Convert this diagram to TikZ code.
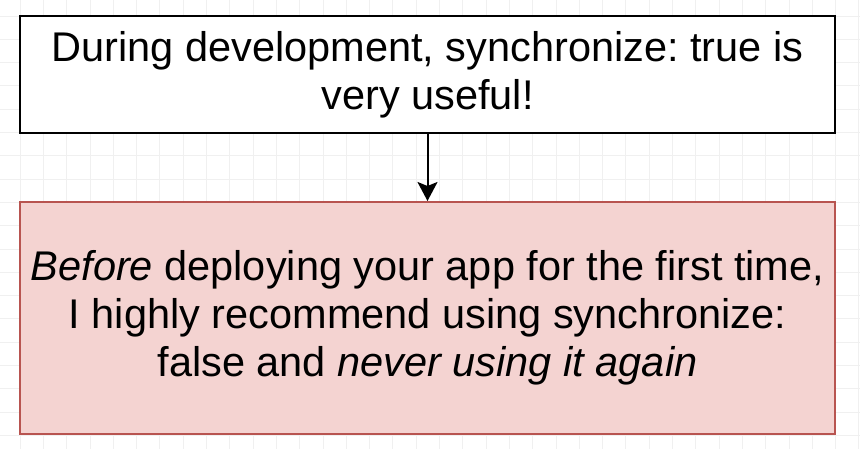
\documentclass[tikz,border=0pt]{standalone}
\usepackage{fontspec}
\setmainfont{Liberation Sans}
\usetikzlibrary{positioning,arrows.meta}
\definecolor{pinkfill}{HTML}{F4D3D1}
\definecolor{pinkline}{HTML}{B85450}
\frenchspacing
\tikzset{gridline/.style={draw=black!6, line width=0.8pt}}
\tikzset{note/.style={rectangle, minimum width=815pt, align=center, font=\fontsize{41.5}{48}\selectfont, inner sep=0pt}}
\tikzset{plain/.style={note, draw=black, line width=2pt, fill=white, minimum height=117pt}}
\tikzset{warn/.style={note, draw=pinkline, line width=2pt, fill=pinkfill, minimum height=232pt}}

\begin{document}
\begin{tikzpicture}[x=1pt,y=1pt]
    \useasboundingbox (0,0) rectangle (860,449);
    \fill[white] (0,0) rectangle (860,449);
    \foreach \k in {0,...,37} {
        \draw[gridline] ({-3.3+23.3*\k},0) -- ({-3.3+23.3*\k},449);
    }
    \foreach \k in {0,...,19} {
        \draw[gridline] (0,{456.3-23.3*\k}) -- (860,{456.3-23.3*\k});
    }

    \node[plain] (dev) at (427.5,374.5) {During development, synchronize: true is\\very useful!};
    \node[warn] (deploy) at (427.5,131) {\textit{Before} deploying your app for the first time,\\I highly recommend using synchronize:\\false and \textit{never using it again}};

    \draw[-{Stealth[width=20pt,length=19pt,inset=4pt]}, line width=2pt] (dev) -- (deploy);
\end{tikzpicture}
\end{document}
